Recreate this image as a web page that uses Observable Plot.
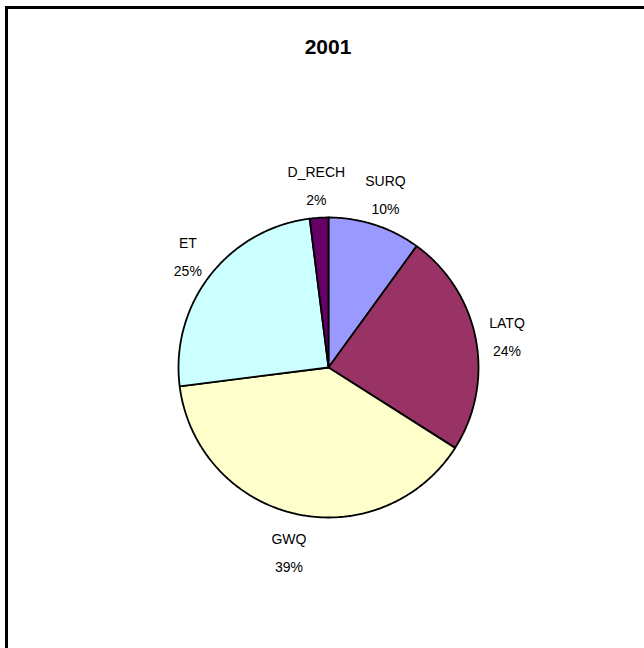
<!DOCTYPE html>
<html>
<head>
<meta charset="utf-8">
<script src="https://cdn.jsdelivr.net/npm/d3@7"></script>
<script src="https://cdn.jsdelivr.net/npm/@observablehq/plot@0.6"></script>
<style>
  html, body { margin: 0; padding: 0; background: #fff; overflow: hidden; width: 644px; height: 648px; }
  #chart { position: absolute; left: 0; top: 0; width: 644px; height: 648px; }
  #title { position: absolute; left: 0; top: 35px; width: 656px; text-align: center;
           font: bold 21px "Liberation Sans", Arial, sans-serif; color: #000; z-index: 1; }
  #border { position: absolute; left: 5px; top: 6px; width: 660px; height: 700px;
            border: 3px solid #000; z-index: 2; pointer-events: none; }
</style>
</head>
<body>
<div id="chart"></div>
<div id="title">2001</div>
<div id="border"></div>
<script>
// Water balance components for 2001 (share of total, %)
const categories = ["SURQ", "LATQ", "GWQ", "ET", "D_RECH"];
const percents = [10, 24, 39, 25, 2];
const palette = ["#9999FF", "#993366", "#FFFFCC", "#CCFFFF", "#660066"];

const rows = categories.map((name, i) => ({name, pct: percents[i]}));

// Angles clockwise from 12 o'clock, in chart order
const arcs = d3.pie().sort(null).value(d => d.pct)(rows);

// Each wedge as a closed outline: centre -> arc -> centre (unit radius, y up)
const wedgePoints = arcs.flatMap(a => {
  const n = Math.max(2, Math.ceil((a.endAngle - a.startAngle) / (Math.PI / 360)));
  const pts = [{name: a.data.name, x: 0, y: 0}];
  for (let k = 0; k <= n; ++k) {
    const t = a.startAngle + (a.endAngle - a.startAngle) * k / n;
    pts.push({name: a.data.name, x: Math.sin(t), y: Math.cos(t)});
  }
  pts.push({name: a.data.name, x: 0, y: 0});
  return pts;
});

const px = 150;            // pixels per unit radius
const cx = 328, cy = 367, W = 644, H = 648;
const fontSize = 14, lineHeight = 2;

// Rough width of a label line in pixels (Arial-like metrics)
const ctx = document.createElement("canvas").getContext("2d");
ctx.font = `${fontSize}px "Liberation Sans", Arial, sans-serif`;
const textWidth = s => ctx.measureText(s).width;

// Labels sit outside the rim: a point a small gap beyond the edge at the
// wedge's mid-angle, pushed outward by half the label's box in that direction.
const gap = 14;
const labels = arcs.map(a => {
  const m = (a.startAngle + a.endAngle) / 2;
  const lines = [a.data.name, `${a.data.pct}%`];
  const halfW = d3.max(lines, textWidth) / 2;
  const halfH = (fontSize * lineHeight * (lines.length - 1) + fontSize * 1.15) / 2;
  const s = Math.sin(m), c = Math.cos(m);
  const dxPx = (px + gap) * s + s * halfW;
  const dyPx = (px + gap) * c + c * halfH;
  return {x: dxPx / px, y: dyPx / px, text: lines.join("\n")};
});

const chart = Plot.plot({
  width: W,
  height: H,
  margin: 0,
  style: {background: "transparent"},
  x: {domain: [-cx / px, (W - cx) / px], axis: null},
  y: {domain: [-(H - cy) / px, cy / px], axis: null},
  color: {domain: categories, range: palette},
  marks: [
    Plot.line(wedgePoints, {
      x: "x", y: "y", z: "name", fill: "name",
      stroke: "#000", strokeWidth: 1.8, strokeLinejoin: "round"
    }),
    Plot.text(labels, {
      x: "x", y: "y", text: "text",
      fontSize, lineHeight,
      fontFamily: "Liberation Sans, Arial, sans-serif",
      fill: "#000"
    })
  ]
});

document.getElementById("chart").appendChild(chart);
</script>
</body>
</html>
